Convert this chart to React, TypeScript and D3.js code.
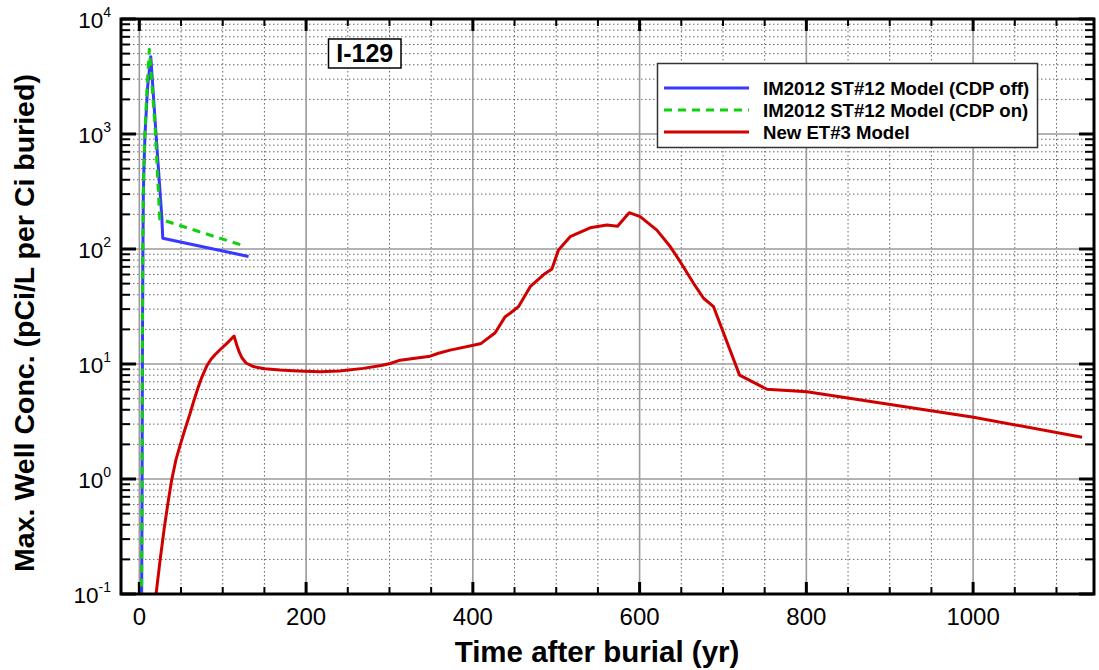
import React from "react";
import * as d3 from "d3";

const W = 1099, H = 670;
const M = { left: 121, right: 1094, top: 19, bottom: 594 };

const xTicksMajor = [0, 200, 400, 600, 800, 1000];
const xTicksMinor = [50, 100, 150, 250, 300, 350, 450, 500, 550, 650, 700, 750, 850, 900, 950, 1050, 1100];
const yDecades = [-1, 0, 1, 2, 3, 4];

const seriesNames = ["IM2012 ST#12 Model (CDP off)", "IM2012 ST#12 Model (CDP on)", "New ET#3 Model"];

const cdpOff: [number, number][] = [
  [2.6, 0.05], [3.2, 0.5], [3.8, 20], [4.3, 100], [4.8, 300], [5.5, 500], [6.8, 1000], [10, 2600],
  [13.7, 4700], [20, 1000], [26.9, 191], [28.1, 124], [131, 86],
];
const cdpOn: [number, number][] = [
  [2.5, 0.05], [3.1, 0.5], [3.7, 20], [4.2, 100], [4.7, 300], [5.4, 500], [6.6, 1000], [9.5, 2800],
  [12, 5450], [19, 1100], [24.5, 182], [122.8, 108],
];
const et3: [number, number][] = [
  [18.5, 0.08], [25, 0.2], [30, 0.38], [34.5, 0.63], [38.8, 0.98], [44, 1.48], [48.8, 1.95],
  [54, 2.6], [60.8, 3.7], [65, 4.7], [70, 6.1], [75, 7.7], [80.8, 9.6], [86, 11.0], [91, 12.1],
  [96.8, 13.3], [105, 15.1], [113.6, 17.5],
  [117, 14.5], [120, 12.6], [122.8, 11.4], [128, 10.2], [136.8, 9.5], [150, 9.1],
  [168.8, 8.87], [190, 8.7], [216.8, 8.57], [240, 8.7], [268.7, 9.16], [290, 9.7], [300.8, 10.1],
  [312.8, 10.8], [348.8, 11.7], [358.8, 12.4], [372.8, 13.2], [404.8, 14.8], [410, 15.1],
  [426.8, 18.7], [438.8, 25.8], [444.7, 27.6], [454.7, 31.5], [468.8, 47], [485, 60], [494.8, 67],
  [502.7, 98], [516.7, 128], [540.7, 153], [560.8, 162], [573.5, 158], [587.5, 207], [600.7, 191],
  [620.7, 146], [636.7, 105], [648.7, 77.6], [664.7, 50.3], [676.7, 37.3], [688.7, 31.5],
  [719.9, 8.0], [752.7, 6.03], [800.7, 5.74], [1000.6, 3.44], [1130.6, 2.31],
];

const colors = ["#3838ff", "#10d010", "#d00000"];
const FONT = "'Liberation Sans', Arial, Helvetica, sans-serif";

export default function App() {
  const x = d3.scaleLinear().domain([-22, 1145]).range([M.left, M.right]);
  const y = d3.scaleLog().domain([0.1, 10000]).range([M.bottom, M.top]);
  const line = d3
    .line<[number, number]>()
    .x((d) => x(d[0]))
    .y((d) => y(d[1]));

  const yMinor: number[] = [];
  for (const e of yDecades.slice(0, -1)) for (let k = 2; k <= 9; k++) yMinor.push(k * Math.pow(10, e));

  const series = [
    { data: cdpOff, color: colors[0], dash: undefined as string | undefined },
    { data: cdpOn, color: colors[1], dash: "8,6" },
    { data: et3, color: colors[2], dash: undefined },
  ];

  return (
    <svg width={W} height={H} style={{ position: "absolute", left: 0, top: 0, background: "#fff" }} fontFamily={FONT}>
      <defs>
        <clipPath id="plot">
          <rect x={M.left} y={M.top} width={M.right - M.left} height={M.bottom - M.top} />
        </clipPath>
      </defs>
      {xTicksMinor.map((t) => (
        <line key={"xm" + t} x1={x(t)} x2={x(t)} y1={M.top} y2={M.bottom} stroke="#666" strokeWidth={1} strokeDasharray="1.5,2.5" />
      ))}
      {yMinor.map((t) => (
        <line key={"ym" + t} x1={M.left} x2={M.right} y1={y(t)} y2={y(t)} stroke="#666" strokeWidth={1} strokeDasharray="1.5,2.5" />
      ))}
      {xTicksMajor.map((t) => (
        <line key={"xg" + t} x1={x(t)} x2={x(t)} y1={M.top} y2={M.bottom} stroke="#9a9a9a" strokeWidth={1.6} />
      ))}
      {yDecades.map((e) => (
        <line key={"yg" + e} x1={M.left} x2={M.right} y1={y(Math.pow(10, e))} y2={y(Math.pow(10, e))} stroke="#9a9a9a" strokeWidth={1.6} />
      ))}
      {xTicksMajor.map((t) => (
        <g key={"xt" + t}>
          <line x1={x(t)} x2={x(t)} y1={M.bottom} y2={M.bottom - 12} stroke="#000" strokeWidth={3} />
          <line x1={x(t)} x2={x(t)} y1={M.top} y2={M.top + 12} stroke="#000" strokeWidth={3} />
        </g>
      ))}
      {xTicksMinor.map((t) => (
        <g key={"xmt" + t}>
          <line x1={x(t)} x2={x(t)} y1={M.bottom} y2={M.bottom - 7} stroke="#000" strokeWidth={2} />
          <line x1={x(t)} x2={x(t)} y1={M.top} y2={M.top + 7} stroke="#000" strokeWidth={2} />
        </g>
      ))}
      {yDecades.map((e) => (
        <g key={"yt" + e}>
          <line x1={M.left} x2={M.left + 15} y1={y(Math.pow(10, e))} y2={y(Math.pow(10, e))} stroke="#000" strokeWidth={3} />
          <line x1={M.right} x2={M.right - 15} y1={y(Math.pow(10, e))} y2={y(Math.pow(10, e))} stroke="#000" strokeWidth={3} />
        </g>
      ))}
      {yMinor.map((t) => (
        <g key={"ymt" + t}>
          <line x1={M.left} x2={M.left + 9} y1={y(t)} y2={y(t)} stroke="#000" strokeWidth={2} />
          <line x1={M.right} x2={M.right - 9} y1={y(t)} y2={y(t)} stroke="#000" strokeWidth={2} />
        </g>
      ))}
      <g clipPath="url(#plot)">
        {series.map((s, i) => (
          <path key={i} d={line(s.data) || ""} fill="none" stroke={s.color} strokeWidth={3} strokeDasharray={s.dash} strokeLinejoin="round" />
        ))}
      </g>
      <rect x={M.left} y={M.top} width={M.right - M.left} height={M.bottom - M.top} fill="none" stroke="#000" strokeWidth={3} />
      {xTicksMajor.map((t) => (
        <text key={"xl" + t} x={x(t)} y={625} textAnchor="middle" fontSize={24} fill="#000">
          {t}
        </text>
      ))}
      {yDecades.map((e) => (
        <text key={"yl" + e} x={111} y={y(Math.pow(10, e)) + 9} textAnchor="end" fontSize={22.5} fill="#000">
          10
          <tspan fontSize={14} dy={-11}>
            {e}
          </tspan>
        </text>
      ))}
      <text x={597} y={662} textAnchor="middle" fontSize={29.5} fontWeight="bold" fill="#000">
        Time after burial (yr)
      </text>
      <text transform={`translate(34,323) rotate(-90)`} textAnchor="middle" fontSize={28.5} fontWeight="bold" fill="#000">
        Max. Well Conc. (pCi/L per Ci buried)
      </text>
      <rect x={328.5} y={39} width={72.5} height={29} fill="#fff" stroke="#000" strokeWidth={1.5} />
      <text x={364.7} y={62} textAnchor="middle" fontSize={25} fontWeight="bold" fill="#000">
        I-129
      </text>
      <rect x={657.5} y={63.5} width={380} height={84} fill="#fff" stroke="#333" strokeWidth={1.5} />
      {seriesNames.map((n, i) => (
        <g key={"lg" + i}>
          <line x1={664} x2={749} y1={88 + i * 22} y2={88 + i * 22} stroke={colors[i]} strokeWidth={3} strokeDasharray={i === 1 ? "8,6" : undefined} />
          <text x={763} y={95 + i * 22} fontSize={18.6} fontWeight="bold" fill="#000">
            {n}
          </text>
        </g>
      ))}
    </svg>
  );
}
